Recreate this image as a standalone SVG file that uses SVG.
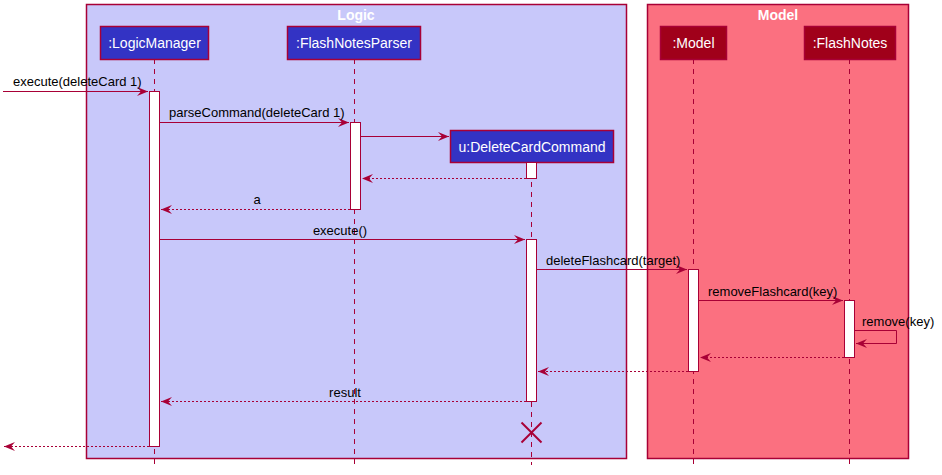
<svg xmlns="http://www.w3.org/2000/svg" width="942" height="475" viewBox="0 0 942 475">
<defs>
<style>
.box{stroke:#A80036;stroke-width:1.5}
.lbox{fill:#3333C4;stroke:#A80036;stroke-width:1.5}
.mbox{fill:#A0001A;stroke:#A80036;stroke-width:1.5}
.ptxt{font-family:"Liberation Sans",Arial,sans-serif;font-size:14px;fill:#FFFFFF;text-anchor:middle}
.ttl{font-family:"Liberation Sans",Arial,sans-serif;font-size:14px;font-weight:bold;fill:#FFFFFF;text-anchor:middle}
.life{stroke:#A80036;stroke-width:1;stroke-dasharray:5,5}
.act{fill:#FFFFFF;stroke:#A80036;stroke-width:1}
.msg{stroke:#A80036;stroke-width:1;fill:none}
.ret{stroke:#A80036;stroke-width:1;fill:none;stroke-dasharray:2,2}
.mt{font-family:"Liberation Sans",Arial,sans-serif;font-size:13px;fill:#000000}
.mtc{font-family:"Liberation Sans",Arial,sans-serif;font-size:13px;fill:#000000;text-anchor:middle}
</style>
<marker id="ah" viewBox="0 0 11 9" refX="11" refY="4.5" markerWidth="11" markerHeight="9" orient="auto" markerUnits="userSpaceOnUse">
<polygon points="0,0 11,4.5 0,9 4,4.5" fill="#A80036"/>
</marker>
</defs>
<rect width="942" height="475" fill="#FFFFFF"/>
<g id="logic-box">
<rect class="box" x="86.5" y="4.5" width="540" height="454" fill="#C8C8FA"/>
<text class="ttl" x="356" y="20">Logic</text>
</g>
<g id="model-box">
<rect class="box" x="647.5" y="4.5" width="261" height="454" fill="#FB7080"/>
<text class="ttl" x="778" y="20">Model</text>
</g>
<g id="lifelines">
<line class="life" x1="154.5" y1="59" x2="154.5" y2="465"/>
<line class="life" x1="354.5" y1="59" x2="354.5" y2="465"/>
<line class="life" x1="531.5" y1="162" x2="531.5" y2="465"/>
<line class="life" x1="693.5" y1="59" x2="693.5" y2="465"/>
<line class="life" x1="849.5" y1="59" x2="849.5" y2="465"/>
</g>
<g id="LogicManager">
<rect class="lbox" x="100.5" y="26.5" width="108" height="33"/>
<text class="ptxt" x="154.5" y="48">:LogicManager</text>
</g>
<g id="FlashNotesParser">
<rect class="lbox" x="287.5" y="26.5" width="133" height="33"/>
<text class="ptxt" x="354" y="48">:FlashNotesParser</text>
</g>
<g id="DeleteCardCommand">
<rect class="lbox" x="450.5" y="130.5" width="163" height="32"/>
<text class="ptxt" x="532" y="152">u:DeleteCardCommand</text>
</g>
<g id="Model">
<rect class="mbox" x="660.5" y="26.5" width="66" height="33"/>
<text class="ptxt" x="693.5" y="48">:Model</text>
</g>
<g id="FlashNotes">
<rect class="mbox" x="804.5" y="26.5" width="91" height="33"/>
<text class="ptxt" x="850" y="48">:FlashNotes</text>
</g>
<g id="activations">
<rect class="act" x="149.5" y="91.5" width="10" height="355"/>
<rect class="act" x="350.5" y="122.5" width="10" height="87"/>
<rect class="act" x="526.5" y="162.5" width="10" height="16"/>
<rect class="act" x="526.5" y="239.5" width="10" height="162"/>
<rect class="act" x="688.5" y="269.5" width="10" height="102"/>
<rect class="act" x="844.5" y="300.5" width="10" height="57"/>
</g>
<g id="connectors">
<line class="msg" x1="3" y1="91.5" x2="148" y2="91.5" marker-end="url(#ah)"/>
<text class="mt" x="13" y="86">execute(deleteCard 1)</text>
<line class="msg" x1="160" y1="122.5" x2="349" y2="122.5" marker-end="url(#ah)"/>
<text class="mt" x="169" y="117">parseCommand(deleteCard 1)</text>
<line class="msg" x1="361" y1="136.5" x2="449" y2="136.5" marker-end="url(#ah)"/>
<line class="ret" x1="526" y1="178.5" x2="362" y2="178.5" marker-end="url(#ah)"/>
<line class="ret" x1="350" y1="209.5" x2="161" y2="209.5" marker-end="url(#ah)"/>
<text class="mtc" x="257" y="204">a</text>
<line class="msg" x1="160" y1="239.5" x2="525" y2="239.5" marker-end="url(#ah)"/>
<text class="mtc" x="340" y="235">execute()</text>
<line class="msg" x1="537" y1="269.5" x2="687" y2="269.5" marker-end="url(#ah)"/>
<text class="mt" x="546" y="265">deleteFlashcard(target)</text>
<line class="msg" x1="699" y1="300.5" x2="843" y2="300.5" marker-end="url(#ah)"/>
<text class="mt" x="708" y="296">removeFlashcard(key)</text>
<polyline class="msg" points="855,330.5 896.5,330.5 896.5,343.5 856,343.5" marker-end="url(#ah)"/>
<text class="mt" x="862" y="326">remove(key)</text>
<line class="ret" x1="844" y1="357.5" x2="700" y2="357.5" marker-end="url(#ah)"/>
<line class="ret" x1="688" y1="371.5" x2="538" y2="371.5" marker-end="url(#ah)"/>
<line class="ret" x1="526" y1="401.5" x2="161" y2="401.5" marker-end="url(#ah)"/>
<text class="mtc" x="345" y="397">result</text>
<line class="ret" x1="149" y1="446.5" x2="4" y2="446.5" marker-end="url(#ah)"/>
<g id="destroy" stroke="#A80036" stroke-width="2">
<line x1="521.5" y1="422.5" x2="541.5" y2="442.5"/>
<line x1="541.5" y1="422.5" x2="521.5" y2="442.5"/>
</g>
</g>
</svg>
